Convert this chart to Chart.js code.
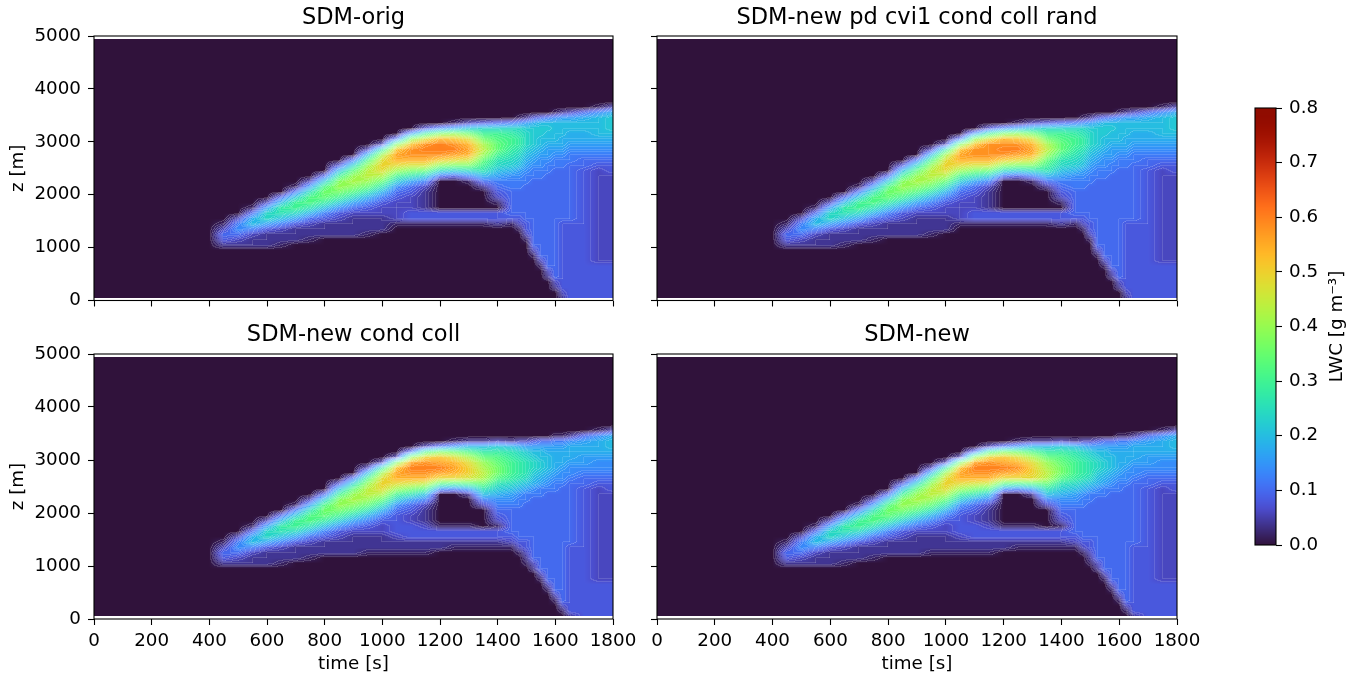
<!DOCTYPE html>
<html>
<head>
<meta charset="utf-8">
<title>LWC time-height sections</title>
<script src="https://cdn.jsdelivr.net/npm/chart.js@4.4.1/dist/chart.umd.min.js"></script>
<style>
  html, body { margin: 0; padding: 0; background: #ffffff; }
  #fig { position: relative; width: 1368px; height: 681px; overflow: hidden; background: #ffffff; }
  #fig canvas { position: absolute; }
</style>
</head>
<body>
<div id="fig">
  <canvas id="cTL" width="625" height="318" style="left:0px;top:0px"></canvas>
  <canvas id="cTR" width="560" height="318" style="left:630px;top:0px"></canvas>
  <canvas id="cBL" width="650" height="361" style="left:0px;top:320px"></canvas>
  <canvas id="cBR" width="590" height="361" style="left:630px;top:320px"></canvas>
  <canvas id="cCB" width="178" height="681" style="left:1190px;top:0px"></canvas>
</div>
<script>
// ======================= DATA =======================
const panelTitles = ['SDM-orig', 'SDM-new pd cvi1 cond coll rand', 'SDM-new cond coll', 'SDM-new'];

// grid columns: time [s]
const times = [0, 400, 450, 500, 550, 600, 650, 700, 750, 800, 850, 900, 950, 1000,
               1050, 1100, 1150, 1200, 1250, 1300, 1350, 1400, 1450, 1475, 1500, 1525,
               1550, 1575, 1600, 1625, 1650, 1700, 1750, 1800];
// grid rows: height z [m], listed top -> bottom (same order as the row strings)
const heights = [4950, 3750, 3650, 3550, 3450, 3350, 3250, 3150, 3050, 2950, 2850, 2750, 2650, 2550,
                 2450, 2350, 2250, 2150, 2050, 1950, 1850, 1750, 1650, 1550, 1450, 1350, 1250, 1150,
                 1050, 950, 850, 750, 650, 550, 450, 350, 250, 150, 50];

const xTickValues = [0, 200, 400, 600, 800, 1000, 1200, 1400, 1600, 1800];
const zTickValues = [0, 1000, 2000, 3000, 4000, 5000];
const cbarTickValues = [0.0, 0.1, 0.2, 0.3, 0.4, 0.5, 0.6, 0.7, 0.8];
const LWC_MAX = 0.8;

// LWC: one base-36 character per grid cell, value = digit * 0.02 g m^-3.
// '|' only separates the t<=1000 s columns from the t>=1050 s columns for readability.
const LWC_UNIT = 0.02;

const lwcOrig = [
  "00000000000000|00000000000000000000",
  "00000000000000|00000000000000000000",
  "00000000000000|00000000000000000013",
  "00000000000000|00000000000000123579",
  "00000000000000|000000000124567889ab",
  "00000000000000|000013456789aaaaaaab",
  "00000000000000|00479bccccbbbbaaaaab",
  "00000000000000|08fjkiffedcbbaaa99aa",
  "00000000000000|6korqoigfecbaaa99999",
  "00000000000003|jqtutrlhfecba9998888",
  "0000000000003e|qtuuusmhedba98887777",
  "000000000000al|stttsrkfdca988776666",
  "000000000006go|rrrponhdcb9877666555",
  "00000000004ckp|onnjiifcba8776665544",
  "0000000000ahmo|kihcbcda987666555434",
  "0000000005fkml|fdb54698776665555433",
  "000000003bjlkh|b8600156666555555433",
  "000000018gkjhd|75300025665555555433",
  "00000006diigd9|54200004555555555433",
  "0000005bghfc96|43200003555555555433",
  "000003afgeb864|33200001555555555433",
  "000018efda7543|33200000555555555433",
  "00005cdc964333|34444444555555555433",
  "00039ca8543222|34444444445555555433",
  "0016a864322222|11111112134555544433",
  "00376432222222|00000000014555544433",
  "00553222222210|00000000003555544433",
  "00432222100000|00000000001555544433",
  "00222210000000|00000000000555544433",
  "00000000000000|00000000000355544433",
  "00000000000000|00000000000155544433",
  "00000000000000|00000000000035544433",
  "00000000000000|00000000000015544444",
  "00000000000000|00000000000003544444",
  "00000000000000|00000000000002544444",
  "00000000000000|00000000000000344444",
  "00000000000000|00000000000000244444",
  "00000000000000|00000000000000034444",
  "00000000000000|00000000000000024444"
];

const lwcPdCvi1 = [
  "00000000000000|00000000000000000000",
  "00000000000000|00000000000000000000",
  "00000000000000|00000000000000000013",
  "00000000000000|00000000000000123579",
  "00000000000000|000000000124567889ab",
  "00000000000000|000013456789aaaaaaab",
  "00000000000000|00479bccccbbbbaaaaab",
  "00000000000000|08fjkiffedcbbaaa99aa",
  "00000000000000|6korqoigfecbaaa99999",
  "00000000000003|jqtttrlhfecba9998888",
  "0000000000003e|qttuusmhedba98887777",
  "000000000000al|stttsrkfdca988776666",
  "000000000006go|rrrponhdcb9877666555",
  "00000000004ckp|onnjiifcba8776665544",
  "0000000000ahmo|kihcbcda987666555434",
  "0000000005fkml|fdb54698776665555433",
  "000000003bjlkh|b8600156666555555433",
  "000000018gkjhd|75300025665555555433",
  "00000006diigd9|54200004555555555433",
  "0000005bghfc96|43200003555555555433",
  "000003afgeb864|33200001555555555433",
  "000018efda7543|33200000555555555433",
  "00005cdc964333|34444444555555555433",
  "00039ca8543222|34444444445555555433",
  "0016a864322222|11111112134555544433",
  "00376432222222|00000000014555544433",
  "00553222222210|00000000003555544433",
  "00432222100000|00000000001555544433",
  "00222210000000|00000000000555544433",
  "00000000000000|00000000000355544433",
  "00000000000000|00000000000155544433",
  "00000000000000|00000000000035544433",
  "00000000000000|00000000000015544444",
  "00000000000000|00000000000003544444",
  "00000000000000|00000000000002544444",
  "00000000000000|00000000000000344444",
  "00000000000000|00000000000000244444",
  "00000000000000|00000000000000034444",
  "00000000000000|00000000000000024444"
];

const lwcCondColl = [
  "00000000000000|00000000000000000000",
  "00000000000000|00000000000000000000",
  "00000000000000|00000000000000000000",
  "00000000000000|00000000000000000013",
  "00000000000000|00000000000000112579",
  "00000000000000|0000122323345566789a",
  "00000000000000|00368aaba9888888999a",
  "00000000000000|06gjigeedcbaa9999999",
  "00000000000000|3kpqolhgedcbaa999888",
  "00000000000003|jstsrokhfedcba998877",
  "0000000000003e|quuusplifedcba987777",
  "000000000000al|sttsrpmifedba9877666",
  "000000000006go|rrroonlgedca98776555",
  "00000000004ckp|onmgfghdcba987665544",
  "0000000000ahmo|kig768dba98766655434",
  "0000000005fkml|fda002a9876665555433",
  "000000003bjlkh|b8600067766555555433",
  "000000018gkjhd|75300036665555555433",
  "00000006diigd9|54200005555555555433",
  "0000005bghfc96|43200004555555555433",
  "000003afgeb864|43200003555555555433",
  "000018efda7543|44311101555555555433",
  "00005cdc964333|44444444555555555433",
  "00039ca8543222|34444444455555555433",
  "0016a864322222|22222222344555555433",
  "00376432222222|22221111134555554433",
  "00553222222211|11100000013555554433",
  "00432222100000|00000000002555554433",
  "00222210000000|00000000001355554433",
  "00000000000000|00000000000255554433",
  "00000000000000|00000000000035554433",
  "00000000000000|00000000000015554433",
  "00000000000000|00000000000003554444",
  "00000000000000|00000000000001554444",
  "00000000000000|00000000000000354444",
  "00000000000000|00000000000000154444",
  "00000000000000|00000000000000034444",
  "00000000000000|00000000000000014444",
  "00000000000000|00000000000000002444"
];

const lwcNew = [
  "00000000000000|00000000000000000000",
  "00000000000000|00000000000000000000",
  "00000000000000|00000000000000000000",
  "00000000000000|00000000000000000013",
  "00000000000000|00000000000000112579",
  "00000000000000|0000122323345566789a",
  "00000000000000|00368aaba9888888999a",
  "00000000000000|06gjigeedcbaa9999999",
  "00000000000000|3kpqolhgedcbaa999888",
  "00000000000003|jstsrokhfedcba998877",
  "0000000000003e|quuutplifedcba987777",
  "000000000000al|sttsrpmifedba9877666",
  "000000000006go|rrrooolgedca98776555",
  "00000000004ckp|onmgfghdcba987665544",
  "0000000000ahmo|kig768dba98766655434",
  "0000000005fkml|fda002a9876665555433",
  "000000003bjlkh|b8600067766555555433",
  "000000018gkjhd|75300036665555555433",
  "00000006diigd9|54200005555555555433",
  "0000005bghfc96|43200004555555555433",
  "000003afgeb864|43200003555555555433",
  "000018efda7543|44311101555555555433",
  "00005cdc964333|44444444555555555433",
  "00039ca8543222|34444444455555555433",
  "0016a864322222|22222222344555555433",
  "00376432222222|22221111134555554433",
  "00553222222211|11100000013555554433",
  "00432222100000|00000000002555554433",
  "00222210000000|00000000001355554433",
  "00000000000000|00000000000255554433",
  "00000000000000|00000000000035554433",
  "00000000000000|00000000000015554433",
  "00000000000000|00000000000003554444",
  "00000000000000|00000000000001554444",
  "00000000000000|00000000000000354444",
  "00000000000000|00000000000000154444",
  "00000000000000|00000000000000034444",
  "00000000000000|00000000000000014444",
  "00000000000000|00000000000000002444"
];

// ======================= RENDERING =======================
Chart.defaults.font.family = "'DejaVu Sans', sans-serif";
Chart.defaults.color = '#000';

const FONT_TICK = 18.3;
const FONT_TITLE = 22.5;
const LEVEL_STEP = 0.01;   // spacing of contour-fill seams
const SEAM_ALPHA = 0.14;

function decodeRows(name, rows) {
  if (rows.length !== heights.length) throw new Error(name + ': ' + rows.length + ' rows, expected ' + heights.length);
  return rows.map((raw, k) => {
    const r = raw.replace('|', '');
    if (r.length !== times.length) throw new Error(name + ' row ' + k + ' (z=' + heights[k] + ') has ' + r.length + ' cells, expected ' + times.length);
    return Array.from(r, ch => parseInt(ch, 36) * LWC_UNIT);
  });
}

function turboPoly(x) {
  const r = 0.13572138 + x * (4.61539260 + x * (-42.66032258 + x * (132.13108234 + x * (-152.94239396 + x * 59.28637943))));
  const g = 0.09140261 + x * (2.19418839 + x * (4.84296658 + x * (-14.18503333 + x * (4.27729857 + x * 2.82956604))));
  const b = 0.10667330 + x * (12.64194608 + x * (-60.58204836 + x * (110.36276771 + x * (-89.90310912 + x * 27.34824973))));
  return [r, g, b];
}
const TURBO0 = [0.18995, 0.07176, 0.23217];
const TURBO_LO = turboPoly(0.08);
function turbo(x) {
  x = Math.max(0, Math.min(1, x));
  let c;
  if (x < 0.08) {
    const f = x / 0.08;
    c = TURBO0.map((v, i) => v + (TURBO_LO[i] - v) * f);
  } else c = turboPoly(x);
  return c.map(v => Math.round(255 * Math.max(0, Math.min(1, v))));
}

const fieldPlugin = {
  id: 'lwcField',
  beforeDatasetsDraw(chart) {
    const G = chart.data.datasets[0].lwcGrid;
    const { ctx, chartArea: a } = chart;
    const xs = chart.scales.x, ys = chart.scales.y;
    const L = Math.floor(a.left), T = Math.floor(a.top);
    const W = Math.ceil(a.right) - L, H = Math.ceil(a.bottom) - T;
    const V = new Float32Array(W * H).fill(-1);
    const zHi = heights[0], zLo = heights[heights.length - 1];
    const tLo = times[0], tHi = times[times.length - 1];
    for (let j = 0; j < H; j++) {
      const z = ys.getValueForPixel(T + j + 0.5);
      if (z > zHi || z < zLo) continue;
      let k = 0;
      while (k < heights.length - 2 && heights[k + 1] > z) k++;
      const fz = (heights[k] - z) / (heights[k] - heights[k + 1]);
      for (let i = 0; i < W; i++) {
        const t = xs.getValueForPixel(L + i + 0.5);
        if (t < tLo || t > tHi) continue;
        let c = 0;
        while (c < times.length - 2 && times[c + 1] < t) c++;
        const ft = (t - times[c]) / (times[c + 1] - times[c]);
        const up = G[k][c] + (G[k][c + 1] - G[k][c]) * ft;
        const dn = G[k + 1][c] + (G[k + 1][c + 1] - G[k + 1][c]) * ft;
        V[j * W + i] = up + (dn - up) * fz;
      }
    }
    const off = document.createElement('canvas');
    off.width = W; off.height = H;
    const octx = off.getContext('2d');
    const img = octx.createImageData(W, H);
    const d = img.data;
    for (let j = 0; j < H; j++) {
      for (let i = 0; i < W; i++) {
        const idx = j * W + i, v = V[idx];
        if (v < 0) continue;
        const col = turbo(v / LWC_MAX);
        const lv = Math.floor(v / LEVEL_STEP);
        let n = 0;
        if (i + 1 < W && V[idx + 1] >= 0) n += Math.abs(Math.floor(V[idx + 1] / LEVEL_STEP) - lv);
        if (j + 1 < H && V[idx + W] >= 0) n += Math.abs(Math.floor(V[idx + W] / LEVEL_STEP) - lv);
        const al = n > 0 ? 1 - Math.pow(1 - SEAM_ALPHA, n) : 0;
        d[idx * 4] = col[0] + (255 - col[0]) * al;
        d[idx * 4 + 1] = col[1] + (255 - col[1]) * al;
        d[idx * 4 + 2] = col[2] + (255 - col[2]) * al;
        d[idx * 4 + 3] = 255;
      }
    }
    octx.putImageData(img, 0, 0);
    ctx.save();
    ctx.beginPath();
    ctx.rect(a.left, a.top, a.right - a.left, a.bottom - a.top);
    ctx.clip();
    ctx.drawImage(off, L, T);
    ctx.restore();
  }
};

const framePlugin = {
  id: 'frame',
  afterDraw(chart) {
    const { ctx, chartArea: a } = chart;
    ctx.save();
    ctx.strokeStyle = '#000';
    ctx.lineWidth = 1.1;
    ctx.strokeRect(a.left, a.top, a.right - a.left, a.bottom - a.top);
    ctx.restore();
  }
};

const panels = [
  { canvas: 'cTL', name: 'lwcOrig',     rows: lwcOrig,     title: panelTitles[0], yLab: true,  xLab: false },
  { canvas: 'cTR', name: 'lwcPdCvi1',   rows: lwcPdCvi1,   title: panelTitles[1], yLab: false, xLab: false },
  { canvas: 'cBL', name: 'lwcCondColl', rows: lwcCondColl, title: panelTitles[2], yLab: true,  xLab: true },
  { canvas: 'cBR', name: 'lwcNew',      rows: lwcNew,      title: panelTitles[3], yLab: false, xLab: true }
];

// layout (pixels) per panel
const layoutOf = {
  cTL: { padRight: 12, yWidth: 94, xHeight: 17.5, tTop: 5, tBot: 4 },
  cTR: { padRight: 13, yWidth: 27, xHeight: 17.5, tTop: 5, tBot: 4 },
  cBL: { padRight: 37, yWidth: 94, xHeight: 62,   tTop: 2, tBot: 5 },
  cBR: { padRight: 43, yWidth: 27, xHeight: 62,   tTop: 2, tBot: 5 }
};

const tickGrid = { drawOnChartArea: false, drawTicks: true, tickLength: 6, tickColor: '#000', tickWidth: 1.1, color: '#000' };

panels.forEach(p => {
  const grid = decodeRows(p.name, p.rows);
  const nodes = [];
  grid.forEach((row, k) => row.forEach((v, c) => nodes.push({ x: times[c], y: heights[k], v })));
  const lay = layoutOf[p.canvas];
  new Chart(document.getElementById(p.canvas), {
    type: 'scatter',
    data: { datasets: [{ data: nodes, lwcGrid: grid, pointRadius: 0, pointHoverRadius: 0 }] },
    options: {
      responsive: false, animation: false, devicePixelRatio: 1, events: [],
      layout: { padding: { left: 0, right: lay.padRight, top: 0, bottom: 0 } },
      plugins: {
        legend: { display: false }, tooltip: { enabled: false },
        title: {
          display: true, text: p.title, fullSize: false, color: '#000',
          font: { size: FONT_TITLE, weight: 'normal' },
          padding: { top: lay.tTop, bottom: lay.tBot }
        }
      },
      scales: {
        x: {
          type: 'linear', min: 0, max: 1800,
          afterBuildTicks: s => { s.ticks = xTickValues.map(v => ({ value: v })); },
          afterFit: s => { s.height = lay.xHeight; s.paddingLeft = 0; s.paddingRight = 0; },
          ticks: { display: p.xLab, autoSkip: false, maxRotation: 0, padding: 5, font: { size: FONT_TICK }, color: '#000', callback: v => String(v) },
          grid: tickGrid, border: { display: false },
          title: { display: p.xLab, text: 'time [s]', color: '#000', font: { size: FONT_TICK }, padding: { top: 0, bottom: 6 } }
        },
        y: {
          type: 'linear', min: 0, max: 5000,
          afterBuildTicks: s => { s.ticks = zTickValues.map(v => ({ value: v })); },
          afterFit: s => { s.width = lay.yWidth; s.paddingTop = 0; s.paddingBottom = 0; },
          ticks: { display: p.yLab, autoSkip: false, padding: 7, font: { size: FONT_TICK }, color: '#000', callback: v => String(v) },
          grid: tickGrid, border: { display: false },
          title: { display: p.yLab, text: 'z [m]', color: '#000', font: { size: FONT_TICK }, padding: { top: 7, bottom: 0 } }
        }
      }
    },
    plugins: [fieldPlugin, framePlugin]
  });
});

// ---------- colorbar ----------
const colorbarPlugin = {
  id: 'colorbar',
  beforeDatasetsDraw(chart) {
    const { ctx, chartArea: a } = chart;
    const ys = chart.scales.y;
    for (let py = Math.floor(a.top); py < Math.ceil(a.bottom); py++) {
      const v = ys.getValueForPixel(py + 0.5);
      const c = turbo(v / LWC_MAX);
      ctx.fillStyle = 'rgb(' + c[0] + ',' + c[1] + ',' + c[2] + ')';
      ctx.fillRect(a.left, py, a.right - a.left, 1);
    }
  },
  afterDraw(chart) {
    const { ctx, chartArea: a } = chart;
    ctx.save();
    ctx.strokeStyle = '#000';
    ctx.lineWidth = 1.1;
    ctx.strokeRect(a.left, a.top, a.right - a.left, a.bottom - a.top);
    ctx.translate(147, (a.top + a.bottom) / 2);
    ctx.rotate(-Math.PI / 2);
    ctx.fillStyle = '#000';
    ctx.font = FONT_TICK + "px 'DejaVu Sans', sans-serif";
    ctx.textAlign = 'center';
    ctx.textBaseline = 'middle';
    ctx.fillText('LWC [g m\u207B\u00B3]', 0, 0);
    ctx.restore();
  }
};

new Chart(document.getElementById('cCB'), {
  type: 'scatter',
  data: { datasets: [{ data: cbarTickValues.map(v => ({ x: 0.5, y: v })), pointRadius: 0, pointHoverRadius: 0 }] },
  options: {
    responsive: false, animation: false, devicePixelRatio: 1, events: [],
    layout: { padding: { left: 65, right: 0, top: 108, bottom: 136 } },
    plugins: { legend: { display: false }, tooltip: { enabled: false }, title: { display: false } },
    scales: {
      x: { display: false, min: 0, max: 1 },
      y: {
        position: 'right', min: 0, max: LWC_MAX,
        afterBuildTicks: s => { s.ticks = cbarTickValues.map(v => ({ value: v })); },
        afterFit: s => { s.width = 92; },
        ticks: { padding: 7, font: { size: FONT_TICK }, color: '#000', callback: v => Number(v).toFixed(1) },
        grid: tickGrid, border: { display: false }
      }
    }
  },
  plugins: [colorbarPlugin]
});
</script>
</body>
</html>
